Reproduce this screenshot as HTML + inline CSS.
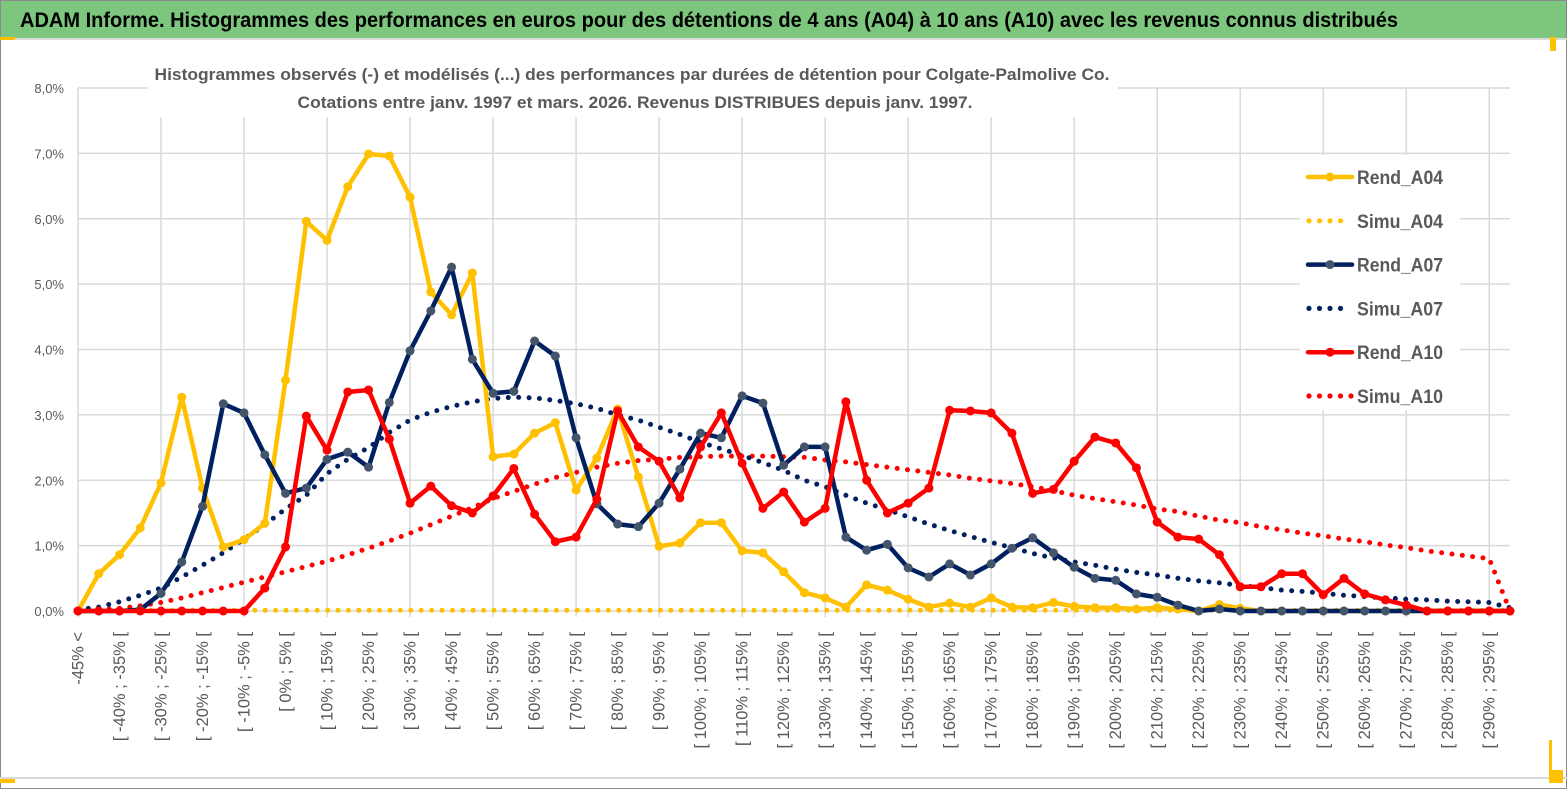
<!DOCTYPE html>
<html><head><meta charset="utf-8"><style>
html,body{margin:0;padding:0;background:#fff;}
svg{display:block;font-family:"Liberation Sans",sans-serif;}
</style></head><body>
<svg id="chart" width="1567" height="789" viewBox="0 0 1567 789" xmlns="http://www.w3.org/2000/svg">
<rect x="0.5" y="0.5" width="1566" height="788" fill="#fff" stroke="#8a8a8a"/>
<rect x="1" y="1" width="1565" height="37" fill="#7dc67e"/>
<line x1="0" y1="39" x2="1567" y2="39" fill="none" stroke="#d9d9d9" stroke-width="2"/>
<rect x="0" y="37" width="15" height="3" fill="#ffc000"/>
<rect x="1550" y="37" width="6" height="14" fill="#ffc000"/>
<text x="20" y="27" font-size="21" font-weight="bold" fill="#000" textLength="1378" lengthAdjust="spacingAndGlyphs">ADAM Informe. Histogrammes des performances en euros pour des détentions de 4 ans (A04) à 10 ans (A10) avec les revenus connus distribués</text>
<line x1="0" y1="778" x2="1567" y2="778" stroke="#d9d9d9" stroke-width="2"/>
<rect x="0" y="779" width="15" height="4" fill="#ffc000"/>
<rect x="1549" y="770" width="14" height="13" fill="#ffc000"/>
<rect x="1549" y="740" width="3" height="30" fill="#ffc000"/>
<g id="grid"></g>
<g id="yticks"></g>
<g id="xticks"></g>
<rect x="148" y="55" width="970" height="62" fill="#fff"/>
<text x="632" y="80" font-size="17" font-weight="bold" fill="#595959" text-anchor="middle" textLength="955" lengthAdjust="spacingAndGlyphs">Histogrammes observés (-) et modélisés (...) des performances par durées de détention pour Colgate-Palmolive Co.</text>
<text x="635" y="108" font-size="17" font-weight="bold" fill="#595959" text-anchor="middle" textLength="675" lengthAdjust="spacingAndGlyphs">Cotations entre janv. 1997 et mars. 2026. Revenus DISTRIBUES depuis janv. 1997.</text>
<g id="series"></g>
<g id="legend"></g>
</svg>
<script>
const categories = ["-45% <"];
for (let p = -45; p < 300; p += 5) categories.push("[ " + p + "% ; " + (p + 5) + "% [");
const yTicks = [0,1,2,3,4,5,6,7,8];
const yTickLabels = ["0,0%","1,0%","2,0%","3,0%","4,0%","5,0%","6,0%","7,0%","8,0%"];
const rendA04 = [0,0.57,0.86,1.27,1.96,3.27,1.88,0.98,1.09,1.34,3.53,5.96,5.67,6.49,6.99,6.96,6.33,4.88,4.53,5.17,2.36,2.4,2.72,2.88,1.85,2.34,3.09,2.05,0.99,1.04,1.35,1.35,0.92,0.89,0.6,0.28,0.2,0.06,0.4,0.32,0.18,0.06,0.12,0.06,0.2,0.06,0.05,0.13,0.07,0.05,0.05,0.03,0.05,0.03,0,0.1,0.04,0,0,0,0,0,0,0,0,0,0,0,0,0];
const simuA04 = new Array(70).fill(0.01);
const rendA07 = [0,0,0,0.02,0.27,0.75,1.6,3.17,3.03,2.39,1.8,1.88,2.32,2.43,2.2,3.19,3.98,4.59,5.26,3.85,3.33,3.36,4.13,3.9,2.65,1.64,1.33,1.29,1.65,2.17,2.72,2.65,3.29,3.18,2.23,2.51,2.51,1.13,0.93,1.02,0.66,0.52,0.72,0.55,0.72,0.96,1.12,0.89,0.67,0.5,0.47,0.26,0.21,0.09,0,0.03,0,0,0,0,0,0,0,0,0,0,0,0,0,0];
const simuA07 = [0.02,0.06,0.14,0.24,0.35,0.52,0.7,0.89,1.1,1.32,1.56,1.77,2.1,2.32,2.5,2.73,2.92,3.04,3.13,3.2,3.25,3.27,3.26,3.22,3.17,3.1,3.0,2.92,2.81,2.7,2.58,2.48,2.38,2.27,2.15,2.0,1.9,1.77,1.65,1.55,1.44,1.33,1.23,1.14,1.05,0.97,0.88,0.81,0.75,0.7,0.64,0.59,0.55,0.5,0.46,0.43,0.39,0.36,0.32,0.3,0.27,0.24,0.22,0.2,0.18,0.17,0.15,0.14,0.13,0.05];
const rendA10 = [0,0,0,0,0,0,0,0,0,0.35,0.98,2.98,2.46,3.35,3.38,2.63,1.65,1.91,1.61,1.5,1.76,2.18,1.48,1.06,1.13,1.71,3.06,2.51,2.29,1.73,2.51,3.03,2.26,1.57,1.82,1.36,1.57,3.2,2.0,1.5,1.65,1.88,3.07,3.06,3.03,2.72,1.8,1.86,2.29,2.66,2.57,2.19,1.36,1.13,1.1,0.86,0.37,0.37,0.57,0.57,0.25,0.5,0.26,0.17,0.09,0,0,0,0,0];
const simuA10 = [0,0.02,0.04,0.08,0.13,0.2,0.28,0.36,0.44,0.52,0.6,0.68,0.76,0.86,0.96,1.07,1.19,1.32,1.45,1.58,1.72,1.83,1.94,2.04,2.12,2.2,2.26,2.3,2.32,2.35,2.36,2.37,2.37,2.37,2.36,2.35,2.31,2.28,2.24,2.2,2.16,2.12,2.08,2.03,1.99,1.95,1.9,1.84,1.77,1.72,1.67,1.62,1.56,1.52,1.45,1.39,1.35,1.29,1.24,1.19,1.15,1.1,1.06,1.01,0.97,0.92,0.88,0.84,0.8,0];
const legendNames = ["Rend_A04","Simu_A04","Rend_A07","Simu_A07","Rend_A10","Simu_A10"];

const NS = "http://www.w3.org/2000/svg";
const X0 = 78, X1 = 1510, Y0 = 611, YTOP = 88, YMAX = 8;
const n = categories.length;
function xs(i){ return X0 + (X1 - X0) * i / (n - 1); }
function ys(v){ return Y0 - (Y0 - YTOP) * v / YMAX; }
function mk(tag, attrs, parent){ const e = document.createElementNS(NS, tag); for (const k in attrs) e.setAttribute(k, attrs[k]); parent.appendChild(e); return e; }

const grid = document.getElementById("grid");
yTicks.forEach(t => {
  const l = mk("line", {x1:X0, x2:X1, y1:ys(t), y2:ys(t), stroke:"#d9d9d9", "stroke-width":1.5}, grid);
  
  
});
for (let i = 0; i < n; i += 4) {
  const l = mk("line", {x1:xs(i), x2:xs(i), y1:YTOP, y2:Y0 + 6, stroke:"#d9d9d9", "stroke-width":1.5}, grid);
  
  
}
const yt = document.getElementById("yticks");
yTicks.forEach((t, j) => {
  const tx = mk("text", {x:64, y:ys(t) + 5, "font-size":13, fill:"#595959", "text-anchor":"end"}, yt);
  tx.textContent = yTickLabels[j];
  
  
});
const xt = document.getElementById("xticks");
for (let i = 0; i < n; i += 2) {
  const x = xs(i) + 5.5, y = 632;
  const tx = mk("text", {x:x, y:y, "font-size":16.5, fill:"#595959", "text-anchor":"end", transform:"rotate(-90 " + x + " " + y + ")"}, xt);
  tx.textContent = categories[i];
  
  
}

const seriesG = document.getElementById("series");
function pts(vals){ return vals.map((v, i) => xs(i).toFixed(1) + "," + ys(v).toFixed(1)).join(" "); }
function dotted(vals, color, name){
  const p = mk("polyline", {points:pts(vals), fill:"none", stroke:color, "stroke-width":5, "stroke-linecap":"round", "stroke-dasharray":"0 10.4"}, seriesG);
  
  
}
function solid(vals, color, mcolor, name){
  const g = mk("g", {}, seriesG);
  
  
  mk("polyline", {points:pts(vals), fill:"none", stroke:color, "stroke-width":4.5, "stroke-linejoin":"round"}, g);
  vals.forEach((v, i) => {
    const c = mk("circle", {cx:xs(i), cy:ys(v), r:4.5, fill:mcolor}, g);
    
    
  });
}
dotted(simuA04, "#ffc000", "simu-a04-line");
dotted(simuA10, "#ff0000", "simu-a10-line");
dotted(simuA07, "#002060", "simu-a07-line");
solid(rendA04, "#ffc000", "#ffc000", "rend-a04-line");
solid(rendA07, "#002060", "#44546a", "rend-a07-line");
solid(rendA10, "#ff0000", "#ff0000", "rend-a10-line");

const lg = document.getElementById("legend");
mk("rect", {x:1300, y:155, width:160, height:255, fill:"#fff"}, lg);
const lColors = ["#ffc000","#ffc000","#002060","#002060","#ff0000","#ff0000"];
const lMark = ["#ffc000",null,"#44546a",null,"#ff0000",null];
legendNames.forEach((nm, j) => {
  const y = 177 + j * 43.8;
  const g = mk("g", {}, lg);
  
  
  if (j % 2 === 0) {
    mk("line", {x1:1308, x2:1352, y1:y, y2:y, stroke:lColors[j], "stroke-width":4.5, "stroke-linecap":"round"}, g);
    mk("circle", {cx:1330, cy:y, r:4.5, fill:lMark[j]}, g);
  } else {
    const cnt = j === 5 ? 5 : 4;
    for (let k = 0; k < cnt; k++) mk("circle", {cx:1309 + k * 10.5, cy:y, r:2.6, fill:lColors[j]}, g);
  }
  const t = mk("text", {x:1357, y:y + 7, "font-size":19, "font-weight":"bold", fill:"#595959", textLength:86, lengthAdjust:"spacingAndGlyphs"}, g);
  t.textContent = nm;
});
</script>
</body></html>
